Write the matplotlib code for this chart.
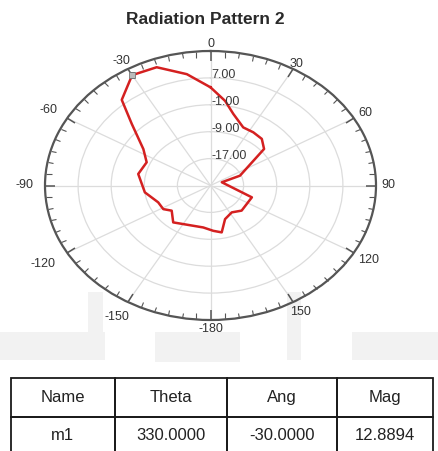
import numpy as np
import matplotlib
matplotlib.use("Agg")
import matplotlib.pyplot as plt
from matplotlib.patches import Rectangle
from matplotlib.transforms import offset_copy

plt.rcParams['font.family'] = ['Liberation Sans', 'DejaVu Sans']

# radiation pattern, theta in degrees (clockwise from top), magnitude in dB
theta_deg = [0, 8, 14.5, 24.6, 33.2, 41.8, 50, 67.7, 70.6, 109.4, 134.8, 147.3,
             160.6, 169, 177.1, 188, 219.4, 231.4, 238.4, 248.4, 262.7, 281.1,
             294.1, 303.7, 313.9, 319.9, 330, 339.7, 350.2, 360]
mag_db = [4.2, 0.4, -3.0, -6.0, -6.1, -6.4, -8.1, -17.3, -22.1, -14.4, -14.4, -15.5,
          -14.4, -10.8, -11.5, -12.4, -10.8, -13.0, -11.6, -11.4, -9.0, -7.2,
          -8.1, -5.5, 1.4, 8.3, 12.89, 12.5, 8.6, 4.2]

r_rings = [-17, -9, -1, 7, 15]
r_labels = ['-17.00', '-9.00', '-1.00', '7.00', '']
ang_ticks = list(range(0, 360, 30))
ang_labels = ['0', '30', '60', '90', '120', '150', '-180', '-150', '-120', '-90', '-60', '-30']

marker_name = 'm1'
marker_theta = 330.0
marker_ang = -30.0
marker_mag = 12.8894

col_names = ['Name', 'Theta', 'Ang', 'Mag']

rmin, rmax = -25, 15
# how far out each angle label sits (fraction of the outer ring)
lab_rad = [1.052, 1.044, 1.082, 1.072, 1.101, 1.085, 1.067, 1.126, 1.17, 1.121, 1.129, 1.072]

fig = plt.figure(figsize=(4.38, 4.51), dpi=100)

# faint smudges from the scanned original
for x0, y0, w, h in [(0, 332, 105, 28), (155, 332, 85, 30), (352, 332, 86, 28),
                     (88, 292, 15, 43), (287, 292, 14, 68)]:
    fig.patches.append(Rectangle((x0 / 438, 1 - (y0 + h) / 451), w / 438, h / 451,
                                 transform=fig.transFigure, color='#f2f2f2',
                                 zorder=-5, lw=0))

ax = fig.add_axes([45 / 438, 131 / 451, 331 / 438, 269 / 451], projection='polar')
ax.set_aspect('auto')
ax.patch.set_alpha(0)
ax.set_theta_zero_location('N')
ax.set_theta_direction(-1)
ax.set_rlim(rmin, rmax)

ax.plot(np.deg2rad(theta_deg), mag_db, color='#d42020', lw=1.8, zorder=3)
ax.plot(np.deg2rad(marker_theta), marker_mag, marker='s', ms=4, mfc='#bbbbbb',
        mec='#777777', mew=0.6, zorder=4)

ax.set_rgrids(r_rings, labels=['' for _ in r_rings])
tr = offset_copy(ax.transData, fig=fig, x=1, y=3, units='dots')
for rv, lab in zip(r_rings, r_labels):
    ax.text(0, rv, lab, transform=tr, ha='left', va='center', fontsize=9, color='#3a3a3a')

ax.set_xticks(np.deg2rad(ang_ticks))
ax.set_xticklabels([])
for a, lab, rr in zip(ang_ticks, ang_labels, lab_rad):
    ax.text(np.deg2rad(a), rmin + (rmax - rmin) * rr, lab, ha='center', va='center',
            fontsize=9, color='#333333', clip_on=False)
ax.set_xticks(np.deg2rad(np.arange(0, 360, 5)), minor=True)
ax.tick_params(axis='x', which='both', bottom=False, top=True)
ax.tick_params(axis='x', which='major', direction='in', length=7, width=1.1,
               color='#555555')
ax.tick_params(axis='x', which='minor', direction='in', length=4, width=0.8,
               color='#555555')
ax.grid(True, color='#dcdcdc', lw=0.9)
ax.spines['polar'].set_color('#555555')
ax.spines['polar'].set_linewidth(1.6)

fig.text(205 / 438, 1 - 20 / 451, 'Radiation Pattern 2', ha='center', va='center',
         fontsize=12.5, fontweight='bold', color='#2a2a2a')

# marker table
tax = fig.add_axes([10.7 / 438, -4 / 451, 422.6 / 438, 77 / 451])
tax.axis('off')
cells = [[marker_name, '%.4f' % marker_theta, '%.4f' % marker_ang, '%.4f' % marker_mag]]
tbl = tax.table(cellText=cells, colLabels=col_names, cellLoc='center',
                colWidths=[0.2468, 0.2643, 0.2603, 0.2286], bbox=[0, 0, 1, 1])
tbl.auto_set_font_size(False)
for (row, col), cell in tbl.get_celld().items():
    cell.set_edgecolor('#1a1a1a')
    cell.set_linewidth(1.3)
    cell.set_facecolor('none')
    cell.get_text().set_fontsize(12)
    cell.get_text().set_color('#222222')

fig.savefig('out.png', dpi=100)
